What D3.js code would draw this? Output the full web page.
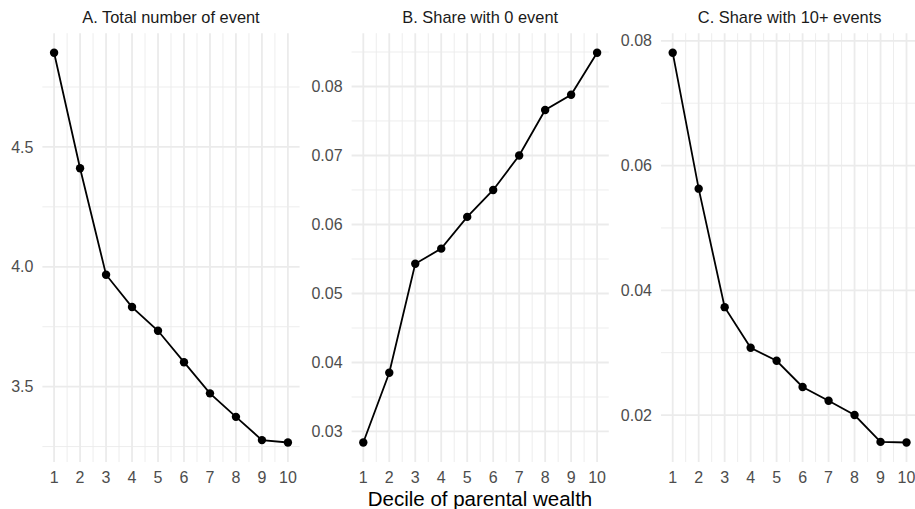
<!DOCTYPE html>
<html>
<head>
<meta charset="utf-8">
<script src="https://cdn.jsdelivr.net/npm/d3@7"></script>
<style>
  body { margin: 0; background: #fff; }
  svg { display: block; font-family: "Liberation Sans", Arial, sans-serif; }
  .grid-major { stroke: #ebebeb; stroke-width: 1.8; }
  .grid-minor { stroke: #ebebeb; stroke-width: 0.9; }
  .tick-label { fill: #4d4d4d; font-size: 16px; }
  .strip { fill: #1a1a1a; font-size: 16.4px; }
</style>
</head>
<body>
<div id="chart"></div>
<script>
// data
const deciles = [1, 2, 3, 4, 5, 6, 7, 8, 9, 10];
const totalEvents = [4.893, 4.411, 3.967, 3.832, 3.733, 3.602, 3.472, 3.374, 3.277, 3.267];
const shareZero = [0.0284, 0.0385, 0.0543, 0.0565, 0.0611, 0.0650, 0.0700, 0.0766, 0.0788, 0.0849];
const shareTenPlus = [0.0781, 0.0563, 0.0373, 0.0308, 0.0287, 0.0245, 0.0223, 0.0200, 0.0157, 0.0156];
const panelTitles = ['A. Total number of event', 'B. Share with 0 event', 'C. Share with 10+ events'];
const yTicksA = [3.5, 4.0, 4.5];
const yTicksB = [0.03, 0.04, 0.05, 0.06, 0.07, 0.08];
const yTicksC = [0.02, 0.04, 0.06, 0.08];
const xTitle = 'Decile of parental wealth';

const width = 915, height = 509;
const panelTop = 33.2, panelBottom = 462, panelWidth = 257.2;
const panelLefts = [42.4, 351.6, 661];

const panels = [
  { title: panelTitles[0], values: totalEvents, ticks: yTicksA, fmt: d3.format('.1f') },
  { title: panelTitles[1], values: shareZero, ticks: yTicksB, fmt: d3.format('.2f') },
  { title: panelTitles[2], values: shareTenPlus, ticks: yTicksC, fmt: d3.format('.2f') }
];

const svg = d3.select('#chart')
  .append('svg')
  .attr('width', width)
  .attr('height', height);

panels.forEach((p, i) => {
  const left = panelLefts[i];
  const g = svg.append('g').attr('transform', `translate(${left},0)`);

  // ggplot-style 5% expansion on y, 0.45 on the discrete-ish x
  const [lo, hi] = d3.extent(p.values);
  const pad = (hi - lo) * 0.05;
  const y = d3.scaleLinear().domain([lo - pad, hi + pad]).range([panelBottom, panelTop]);
  const x = d3.scaleLinear().domain([0.55, 10.45]).range([0, panelWidth]);

  // minor breaks halfway between majors
  const step = p.ticks[1] - p.ticks[0];
  const yMinor = [p.ticks[0] - step / 2].concat(p.ticks.map(t => t + step / 2))
    .filter(v => v >= y.domain()[0] && v <= y.domain()[1]);
  const xMinor = deciles.slice(0, -1).map(d => d + 0.5);

  g.selectAll('line.ymin').data(yMinor).enter().append('line')
    .attr('class', 'grid-minor')
    .attr('x1', 0).attr('x2', panelWidth)
    .attr('y1', d => y(d)).attr('y2', d => y(d));

  g.selectAll('line.xmin').data(xMinor).enter().append('line')
    .attr('class', 'grid-minor')
    .attr('y1', panelTop).attr('y2', panelBottom)
    .attr('x1', d => x(d)).attr('x2', d => x(d));

  g.selectAll('line.ymaj').data(p.ticks).enter().append('line')
    .attr('class', 'grid-major')
    .attr('x1', 0).attr('x2', panelWidth)
    .attr('y1', d => y(d)).attr('y2', d => y(d));

  g.selectAll('line.xmaj').data(deciles).enter().append('line')
    .attr('class', 'grid-major')
    .attr('y1', panelTop).attr('y2', panelBottom)
    .attr('x1', d => x(d)).attr('x2', d => x(d));

  // y tick labels
  g.selectAll('text.ylab').data(p.ticks).enter().append('text')
    .attr('class', 'tick-label')
    .attr('x', -9)
    .attr('y', d => y(d))
    .attr('dy', '0.35em')
    .attr('text-anchor', 'end')
    .text(d => p.fmt(d));

  // x tick labels
  g.selectAll('text.xlab').data(deciles).enter().append('text')
    .attr('class', 'tick-label')
    .attr('x', d => x(d))
    .attr('y', 483.3)
    .attr('text-anchor', 'middle')
    .text(d => d);

  // strip title
  g.append('text')
    .attr('class', 'strip')
    .attr('x', panelWidth / 2)
    .attr('y', 22.5)
    .attr('text-anchor', 'middle')
    .text(p.title);

  const pts = deciles.map((d, k) => [d, p.values[k]]);
  const line = d3.line().x(d => x(d[0])).y(d => y(d[1]));

  g.append('path')
    .datum(pts)
    .attr('fill', 'none')
    .attr('stroke', '#000')
    .attr('stroke-width', 1.8)
    .attr('d', line);

  g.selectAll('circle').data(pts).enter().append('circle')
    .attr('cx', d => x(d[0]))
    .attr('cy', d => y(d[1]))
    .attr('r', 4.2)
    .attr('fill', '#000');
});

// shared x axis title
svg.append('text')
  .attr('x', 480)
  .attr('y', 506)
  .attr('text-anchor', 'middle')
  .style('font-size', '20.5px')
  .style('fill', '#000')
  .text(xTitle);
</script>
</body>
</html>
